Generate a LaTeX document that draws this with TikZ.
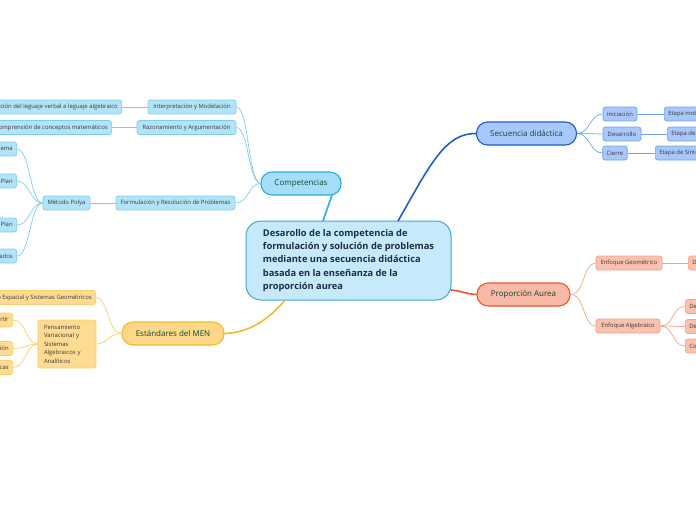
\documentclass[tikz,border=0pt]{standalone}
\usepackage{fontspec}
\setmainfont{Open Sans}
\definecolor{txtsm}{HTML}{3A3A3A}
\definecolor{txtmain}{HTML}{12443A}
\definecolor{txtcen}{HTML}{1B2B4B}
\definecolor{cenfill}{HTML}{C6EAFB}
\definecolor{cenline}{HTML}{3DA6E0}
\definecolor{cfill}{HTML}{A6DEF7}
\definecolor{cline}{HTML}{2BAAE6}
\definecolor{csfill}{HTML}{B2E3F8}
\definecolor{csline}{HTML}{7DCDF1}
\definecolor{sfill}{HTML}{A8C7FA}
\definecolor{sline}{HTML}{1E5EC8}
\definecolor{ssline}{HTML}{74A2EC}
\definecolor{pfill}{HTML}{F8BAA6}
\definecolor{pline}{HTML}{F0542A}
\definecolor{psline}{HTML}{F7A287}
\definecolor{ppfill}{HTML}{F9C1AE}
\definecolor{efill}{HTML}{FDD889}
\definecolor{eline}{HTML}{F6B82A}
\definecolor{esfill}{HTML}{FDDB92}
\definecolor{esline}{HTML}{FBCF6A}
\tikzset{
  smbox/.style={draw, rounded corners=2.5pt, line width=0.7pt, inner ysep=0pt, inner xsep=4pt,
    minimum height=14pt, font=\fontsize{5.9}{6.5}\selectfont, text=txtsm},
  mainbox/.style={draw, rounded corners=11pt, line width=1.1pt, inner sep=0pt,
    minimum height=23pt, font=\fontsize{8}{9}\selectfont, text=txtmain},
  comp/.style={fill=csfill, draw=csline},
  sec/.style={fill=sfill, draw=ssline},
  pro/.style={fill=ppfill, draw=psline},
  est/.style={fill=esfill, draw=esline},
  lnc/.style={draw=csline, line width=0.7pt},
  lns/.style={draw=ssline, line width=0.7pt},
  lnp/.style={draw=psline, line width=0.7pt},
  lne/.style={draw=esline, line width=0.7pt},
}
\begin{document}
\begin{tikzpicture}[x=1pt,y=-1pt]
\useasboundingbox (0,0) rectangle (696,520);
\clip (0,0) rectangle (696,520);

% central
\node[draw=cenline, fill=cenfill, line width=1pt, rounded corners=15pt, minimum width=205pt, minimum height=79pt,
  align=left, inner sep=0pt, text=txtcen,
  font=\fontsize{9.3}{13.4}\selectfont\bfseries] (cen) at (348.5,260.5)
  {Desarollo de la competencia de\\ formulación y solución de problemas\\ mediante una secuencia didáctica\\ basada en la enseñanza de la\\ proporción aurea};

% main branches
\node[mainbox, fill=cfill, draw=cline, minimum width=80pt] (comp) at (301,183.5) {Competencias};
\node[mainbox, fill=sfill, draw=sline, minimum width=100pt] (sec) at (526.5,133.5) {Secuencia didáctica};
\node[mainbox, fill=pfill, draw=pline, minimum width=93pt] (pro) at (523.5,294.5) {Proporción Aurea};
\node[mainbox, fill=efill, draw=eline, minimum width=102pt] (est) at (173,333.5) {Estándares del MEN};

\coordinate (cenA) at (323,221);
\coordinate (cenB) at (398,221);
\coordinate (cenC) at (451,290);
\coordinate (cenD) at (285,300);
\coordinate (compB) at (332,195);
\draw[draw=cline, line width=1.6pt] (cenA) -- (compB);
\draw[draw=sline, line width=1.6pt] (cenB) .. controls (430,165) and (445,133) .. (sec.west);
\draw[draw=pline, line width=1.6pt] (cenC) .. controls (462,291) and (466,294) .. (pro.west);
\draw[draw=eline, line width=1.6pt] (cenD) .. controls (270,318) and (250,333) .. (est.east);

% Competencias subtree
\node[smbox, comp, minimum width=88pt] (im) at (192,107) {Interpretación y Modelación};
\node[smbox, comp, minimum width=99pt] (ra) at (186.5,127.5) {Razonamiento y Argumentación};
\node[smbox, comp, minimum width=119pt] (fr) at (175.5,203) {Formulación y Resolución de Problemas};
\node[smbox, comp, anchor=east] (tr) at (122,107) {Traducción del leguaje verbal a leguaje algebraico};
\node[smbox, comp, anchor=east] (cc) at (112,127.5) {Comprensión de conceptos matemáticos};
\node[smbox, comp, minimum width=47pt] (mp) at (66.5,203) {Método Polya};
\node[smbox, comp, anchor=east] (p1) at (17,149) {Comprender el problema};
\node[smbox, comp, anchor=east] (p2) at (17,181) {Concebir un Plan};
\node[smbox, comp, anchor=east] (p3) at (17,225) {Ejecutar el Plan};
\node[smbox, comp, anchor=east] (p4) at (17,256) {Examinar los resultados};

\coordinate (compL) at (261,183.5);
\foreach \n in {im,ra,fr}{
  \draw[lnc] (compL) .. controls (248,183.5) and (249,0 |- \n.east) .. (\n.east);
}
\draw[lnc] (tr) -- (im);
\draw[lnc] (cc) -- (ra);
\draw[lnc] (mp) -- (fr);
\foreach \n in {p1,p2,p3,p4}{
  \draw[lnc] (mp.west) .. controls (30,203) and (30,0 |- \n.east) .. (\n.east);
}

% Secuencia subtree
\node[smbox, sec, minimum width=34pt] (ini) at (620,114) {Iniciación};
\node[smbox, sec, minimum width=38pt] (des) at (622,134) {Desarrollo};
\node[smbox, sec, minimum width=24pt] (cie) at (615,153) {Cierre};
\node[smbox, sec, anchor=west] (e1) at (664,114) {Etapa motivacional};
\node[smbox, sec, anchor=west] (e2) at (667,134) {Etapa de profundización};
\node[smbox, sec, anchor=west] (e3) at (655,153) {Etapa de Síntesis};
\foreach \n in {ini,des,cie}{
  \draw[lns] (sec.east) .. controls (590,133.5) and (590,0 |- \n.west) .. (\n.west);
}
\draw[lns] (ini) -- (e1);
\draw[lns] (des) -- (e2);
\draw[lns] (cie) -- (e3);

% Proporcion subtree
\node[smbox, pro, minimum width=66pt] (eg) at (629,263) {Enfoque Geométrico};
\node[smbox, pro, minimum width=64pt] (ea) at (628,326) {Enfoque Algebraico};
\node[smbox, pro, anchor=west] (d1) at (688,263) {Definición geométrica};
\node[smbox, pro, anchor=west] (a1) at (685,306.5) {Definición algebraica};
\node[smbox, pro, anchor=west] (a2) at (685,326.5) {Deducción del número};
\node[smbox, pro, anchor=west] (a3) at (685,346) {Construcción};
\foreach \n in {eg,ea}{
  \draw[lnp] (pro.east) .. controls (585,294.5) and (583,0 |- \n.west) .. (\n.west);
}
\draw[lnp] (eg) -- (d1);
\foreach \n in {a1,a2,a3}{
  \draw[lnp] (ea.east) .. controls (674,326) and (672,0 |- \n.west) .. (\n.west);
}

% Estandares subtree
\node[smbox, est, anchor=east] (pe) at (96,297.5) {Pensamiento Espacial y Sistemas Geométricos};
\node[draw, est, rounded corners=2.5pt, line width=0.7pt, minimum width=58pt, minimum height=48pt,
  text width=46pt, align=left, inner sep=0pt, text=txtsm, font=\fontsize{5.9}{8.5}\selectfont] (pv) at (67,344)
  {Pensamiento\\ Variacional y\\ Sistemas\\ Algebraicos y\\ Analíticos};
\node[smbox, est, anchor=east] (v1) at (13,320) {Generalizar y convertir};
\node[smbox, est, anchor=east] (v2) at (13,348.5) {Modelación};
\node[smbox, est, anchor=east] (v3) at (13,367.5) {Expresiones algebraicas};
\foreach \n in {pe,pv}{
  \draw[lne] (est.west) .. controls (108,333.5) and (108,0 |- \n.east) .. (\n.east);
}
\foreach \n in {v1,v2,v3}{
  \draw[lne] (pv.west) .. controls (26,344) and (26,0 |- \n.east) .. (\n.east);
}
\end{tikzpicture}
\end{document}
